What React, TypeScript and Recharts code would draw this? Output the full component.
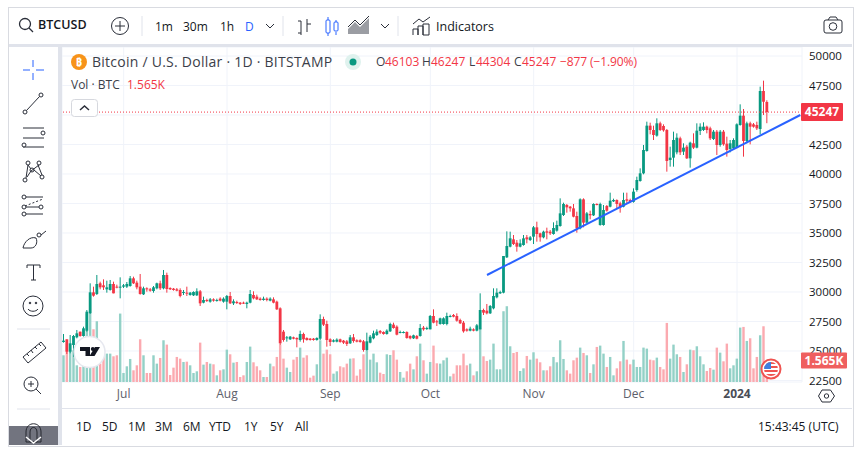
import React from "react";
import {
  ComposedChart, Bar, Line, XAxis, YAxis, CartesianGrid, ReferenceLine,
} from "recharts";

const FONT = "'Open Sans', 'Noto Sans', sans-serif";
const UP = "#089981";
const DOWN = "#f23645";
const UP_VOL = "#93d1c7";
const DOWN_VOL = "#fbaab0";
const INK = "#131722";

const opens = [
  25762,25988,24942,25507,26157,26637,26270,26722,28191,29971,
  29829,30734,30564,30225,30169,30677,30451,30395,30451,30451,
  30507,31157,30790,30451,29801,30310,30225,30084,30310,30734,
  30310,31440,30338,30281,30225,30169,29942,29942,29745,29716,
  29716,30056,29095,29321,29180,29377,29265,29434,29180,29180,
  29660,29039,29152,29095,29095,28982,29095,29745,29603,29434,
  29321,29434,29265,29377,29180,28615,26637,26072,25988,26157,
  26101,25931,26440,26101,26044,26044,25931,26044,27711,27287,
  25988,25790,25790,25988,25875,25818,25649,26157,25903,25903,
  25818,25084,25705,26072,26355,26694,26609,26440,26665,27231,
  27061,26552,26552,26609,26270,26072,26270,26270,26976,26892,
  26835,27965,27513,27287,27287,27287,27908,28050,27965,27626,
  27400,26835,26722,26835,26722,26835,28473,28417,28191,28615,
  29547,29886,29942,32937,33840,34462,34180,33840,33982,34631,
  34405,34688,35479,34970,34631,35140,35112,34914,35197,35592,
  36524,37372,37230,37089,36440,35394,37852,35875,36609,36496,
  37457,35677,35677,37287,37230,37683,37796,37513,37230,37852,
  37796,37640,38644,39406,40056,41949,44096,43729,43249,44294,
  44068,43729,41186,41384,41836,43023,41893,42316,41328,42599,
  42232,43644,43729,44011,43870,42966,43588,42458,43588,42571,
  42119,42175,42232,44153,44944,42797,44294,44209,44153,43814,
  47034,46103,
];
const highs = [
  26440,25988,26355,26355,26779,26637,27061,28473,30734,30451,
  31440,30875,31072,30960,31016,30875,30620,31242,30677,30846,
  31355,31299,30960,31525,30451,30395,30338,30507,30790,30960,
  31864,31638,30395,30338,30338,30310,30169,30451,29999,30056,
  30310,30169,29603,29434,29490,29462,29434,29547,29547,29745,
  29999,29377,29265,29152,29180,29180,30169,30056,29773,29547,
  29603,29547,29547,29547,29265,28700,26779,26270,26270,26214,
  26157,26722,26552,26157,26101,26101,26157,28106,27908,27570,
  26072,25988,26072,26044,25931,25931,26355,26440,25988,25988,
  25931,26552,26355,26722,26835,26779,26665,26835,27400,27400,
  27174,26722,26665,26665,26327,26383,26355,27287,27118,27061,
  28050,28530,27626,27824,27852,28247,28078,28134,28191,27739,
  27541,26920,27061,26920,27287,29886,28587,28982,28897,30310,
  30310,30112,33050,35140,35112,34829,34405,34462,34829,34829,
  34744,35592,35959,35027,35197,35451,35253,35903,36044,37937,
  37570,37457,37287,37457,36807,37937,37937,36778,36891,37513,
  37513,37570,37372,37372,38417,37908,37852,37654,38417,38417,
  37908,38785,39774,40480,42458,44435,44350,44096,44718,44435,
  44209,43814,42316,43588,43446,43164,42599,42458,42740,43446,
  44294,44294,44378,44096,44011,43729,43729,43729,43729,43164,
  42881,43023,44294,45904,45508,44435,44435,44322,44435,47401,
  47910,46247,
];
const lows = [
  25705,24745,24801,24519,26072,26214,26214,26637,28134,29603,
  29745,30225,30169,29942,30112,29886,30310,29462,30338,30338,
  30451,30677,30225,29773,29745,30027,30027,29942,30225,30169,
  30225,29942,30169,30112,30056,29547,29745,29660,29688,29660,
  29660,28813,29039,29152,29095,29180,29180,29208,29095,28530,
  28982,28897,28982,28897,28982,28615,29039,29377,29321,29265,
  29265,29208,29208,29039,28473,25507,25790,25790,25931,25988,
  25310,25790,25705,25875,25875,25875,25875,25931,27118,25366,
  25423,25733,25733,25705,25592,25423,25592,25705,25733,25705,
  24942,25027,25649,25988,26270,26440,26383,26383,26609,26892,
  26327,26496,26496,26044,25988,26016,25988,26214,26722,26779,
  26835,27344,27118,27231,27231,27174,27852,27852,27485,27287,
  26552,26637,26665,26665,26665,26835,28050,28106,28134,28530,
  29462,29829,29885,32880,33784,33982,33417,33784,33925,34123,
  34321,34066,34264,34264,34547,34462,34829,34857,35112,35535,
  36440,36722,36807,36326,35027,35309,35479,35818,36157,36440,
  37344,35620,35620,36807,37174,37626,37089,36722,37174,37513,
  37570,37570,38503,39350,39972,41893,43362,42881,43164,43644,
  43588,40197,40621,40621,41667,41610,41610,41271,40537,42119,
  42175,43305,43644,43446,42881,42881,41610,42316,42401,41469,
  41836,42034,42175,44096,41469,42599,42514,43926,43729,43362,
  45000,44304,
];
const closes = [
  25875,24942,25649,26270,26496,26270,26920,28332,29971,29688,
  30677,30395,30395,30395,30677,29886,30395,30451,30564,30677,
  31157,30734,30395,29829,30310,30225,30112,30395,30734,30310,
  31440,30253,30225,30169,30112,29660,29999,29886,29942,29999,
  30056,29039,29321,29265,29377,29265,29321,29265,29434,29660,
  29039,29208,29067,28982,29039,29095,29829,29462,29377,29321,
  29434,29321,29434,29095,28530,25649,25931,26157,26214,26044,
  25988,26440,25988,25931,25931,25931,26101,27711,27231,25931,
  25762,25903,25960,25762,25705,25592,26157,25846,25790,25762,
  25084,25818,26214,26496,26637,26552,26440,26722,27287,26948,
  26383,26609,26609,26101,26072,26327,26044,26948,26835,26948,
  27965,27400,27457,27767,27767,27965,27965,27908,27570,27344,
  26665,26722,26892,26722,27174,28473,28247,28191,28813,29660,
  29942,29999,33050,33897,34547,34066,33840,34123,34547,34462,
  34631,35479,34914,34631,35112,35027,34970,35422,35677,36665,
  37457,37174,37089,36383,35394,37852,35875,36665,36496,37457,
  37400,37457,36948,36891,37739,37796,37457,37174,37796,37739,
  37626,38503,39491,40056,42034,44096,43729,43305,44294,43729,
  43700,41102,41384,42881,43079,41836,42232,41328,42655,42232,
  43672,44011,44011,43729,43023,43588,42458,43588,42514,42034,
  42599,42881,44209,44944,42797,44294,44011,44011,43870,47034,
  46124,45247,
];
const volumes = [
  1944,2795,2310,2310,1215,1094,3040,4982,4982,3840,
  4423,1337,1823,2066,2066,1871,1944,4982,656,1142,
  1677,851,1215,3110,1944,656,656,1944,1337,1750,
  3038,2722,510,1045,1823,1701,1458,1482,1215,656,
  778,2867,1264,1458,1337,1288,486,851,923,2357,
  2017,1409,1458,365,486,1458,2576,1434,1142,851,
  365,365,1337,1142,1823,2722,1701,1045,729,1628,
  1823,2503,1774,1944,316,462,1288,3038,2066,2357,
  2017,608,778,1142,1069,1337,1701,1725,462,923,
  2017,2309,1628,2066,1434,680,583,2017,1968,2309,
  1628,729,316,778,1337,923,1871,2795,1580,608,
  1458,2649,1361,1337,1580,1774,413,608,1215,1215,
  2066,1215,1337,486,778,3888,1871,1531,1628,2795,
  923,923,5152,5516,2600,2114,2187,802,996,1895,
  1628,2163,1701,1434,851,851,1142,1823,1434,3038,
  1677,851,608,1580,1774,2503,2114,1944,656,1288,
  2552,2649,2066,1094,1823,486,996,1507,2989,1628,
  1288,1628,1094,1094,2503,2430,1628,1580,1774,1094,
  923,4301,1701,2722,2017,1823,729,1288,2357,2309,
  2600,1871,1288,802,1021,899,2503,2138,1507,2795,
  996,1215,1701,3961,4010,2989,3183,996,1823,3402,
  4058,1565,
];

const priceTicks = [22500,25000,27500,30000,32500,35000,37500,40000,42500,45000,47500,50000];
const priceDomain = [22371, 50763];
const volumeDomain = [0, 24388];
const monthTicks = ["2023-07-01","2023-08-01","2023-09-01","2023-10-01","2023-11-01","2023-12-01","2024-01-01"];
const monthLabels = ["Jul","Aug","Sep","Oct","Nov","Dec","2024"];
const trendStart = { date: "2023-10-18", price: 31440 };
const trendEnd = { date: "2024-01-20", price: 45000 };
const lastPrice = 45247;
const lastVolume = 1565;
const ranges = ["1D","5D","1M","3M","6M","YTD","1Y","5Y","All"];
const intervals = ["1m","30m","1h","D"];

const FIRST_DAY = Date.UTC(2023, 5, 13);
const SLOTS = 222;
const dayKey = (i: number) => new Date(FIRST_DAY + i * 86400000).toISOString().slice(0, 10);

const data = Array.from({ length: SLOTS }, (_, i) => {
  const date = dayKey(i);
  const row: any = { date };
  if (i < opens.length) {
    row.open = opens[i];
    row.high = highs[i];
    row.low = lows[i];
    row.close = closes[i];
    row.range = [lows[i], highs[i]];
    row.volume = volumes[i];
  }
  if (date === trendStart.date) row.trend = trendStart.price;
  if (date === trendEnd.date) row.trend = trendEnd.price;
  return row;
});

const Candle = (p: any) => {
  const { x, y, width, height, payload } = p;
  if (!payload || !payload.range || !Number.isFinite(y)) return null;
  const { open, high, low, close } = payload;
  const at = (v: number) => y + ((high - v) / (high - low || 1)) * height;
  const cx = x + width / 2;
  const color = close >= open ? UP : DOWN;
  const top = at(Math.max(open, close));
  const bottom = at(Math.min(open, close));
  return (
    <g>
      <line x1={cx} x2={cx} y1={y} y2={y + height} stroke={color} strokeWidth={1} />
      <rect x={cx - 1.4} y={top} width={2.8} height={Math.max(bottom - top, 1)} fill={color} />
    </g>
  );
};

const VolumeBar = (p: any) => {
  const { x, y, width, height, payload } = p;
  if (!payload || !payload.range || !Number.isFinite(y)) return null;
  const color = payload.close >= payload.open ? UP_VOL : DOWN_VOL;
  return <rect x={x + width / 2 - 1.2} y={y} width={2.4} height={height} fill={color} />;
};

const MonthTick = (p: any) => {
  const { x, y, payload } = p;
  const idx = monthTicks.indexOf(payload.value);
  const label = monthLabels[idx] ?? "";
  const bold = label === "2024";
  return (
    <text x={x} y={y + 8} textAnchor="middle" fontFamily={FONT} fontSize={12}
      fontWeight={bold ? 700 : 400} fill={bold ? "#4a4d57" : "#5d606b"}>
      {label}
    </text>
  );
};

const PriceTag = ({ viewBox, text, w, h, fill }: any) => {
  if (!viewBox) return null;
  const x = viewBox.x + viewBox.width - 1;
  const y = viewBox.y;
  return (
    <g>
      <rect x={x} y={y - h / 2} width={w} height={h} rx={1} fill={fill} />
      <text x={x + w / 2} y={y + 4} textAnchor="middle" fontFamily={FONT} fontSize={12} fontWeight={700} fill="#fff">
        {text}
      </text>
    </g>
  );
};

const T = ({ x, y, c = INK, s = 12, w = 400, a = "start", ls = 0, children }: any) => (
  <text x={x} y={y} fill={c} fontSize={s} fontWeight={w} textAnchor={a} fontFamily={FONT} letterSpacing={ls}>{children}</text>
);

const line = { fill: "none", stroke: "#2a2e39", strokeWidth: 1 };

const Chrome = () => (
  <svg width={863} height={450} style={{ position: "absolute", left: 0, top: 0, pointerEvents: "none" }}>
    {/* top bar */}
    <circle cx={25} cy={24} r={5.5} {...line} strokeWidth={1.3} />
    <path d="M29 28 L33 32" {...line} strokeWidth={1.3} />
    <T x={38} y={29} s={12.5} w={600}>BTCUSD</T>
    <circle cx={120} cy={26} r={8.5} {...line} />
    <path d="M120 21 V31 M115 26 H125" {...line} />
    <path d="M142 16 V36 M283 16 V36 M398 16 V36" stroke="#e0e3eb" />
    <T x={155} y={31}>{intervals[0]}</T>
    <T x={183} y={31}>{intervals[1]}</T>
    <T x={220} y={31}>{intervals[2]}</T>
    <T x={245} y={31} c="#2962ff">{intervals[3]}</T>
    <path d="M266 24 L270 28 L274 24 M381 24 L385 28 L389 24" {...line} />
    <path d="M301 21 V35 M298 33 H301 M307 19 V32 M307 24 H311" {...line} />
    <path d="M298 21 H301" {...line} />
    <rect x={326} y={20} width={4} height={13} rx={1} fill="none" stroke="#2962ff" />
    <path d="M328 17 V20 M328 33 V36 M336 20 V22 M336 32 V35" stroke="#2962ff" />
    <rect x={334} y={22} width={4} height={9} rx={1} fill="none" stroke="#2962ff" />
    <path d="M348 34 V29 L355 22 L360 27 L369 18 V34 Z" fill="#9b9da3" />
    <path d="M348 27 L355 20 L360 25 L369 16" {...line} />
    <path d="M413 35 V29 H418 V35 M418 35 V26 H423 V35 M423 35 V24 H429 V35 Z M413 24 L419 19 L423 22 L430 17" {...line} />
    <T x={436} y={30.5} s={12.5}>Indicators</T>
    <rect x={824} y={20} width={18} height={13} rx={2} {...line} />
    <path d="M828 20 L830 17 H836 L838 20" {...line} />
    <circle cx={833} cy={26.5} r={3.8} {...line} />

    {/* left toolbar */}
    <path d="M33 60 V67 M33 73 V80 M23 70 H30 M36 70 H44" stroke="#2962ff" />
    <g {...line}>
      <circle cx={25} cy={112} r={2} /><circle cx={41} cy={95} r={2} /><path d="M26.5 110.5 L39.5 96.5" />
      <path d="M23 128 H44 M23 138 H44 M23 147 H44" />
      <circle cx={43} cy={133} r={2} fill="#fff" /><circle cx={24} cy={145} r={2} fill="#fff" />
      <circle cx={25} cy={180} r={2} /><circle cx={28} cy={163} r={2} /><circle cx={39} cy={163} r={2} /><circle cx={42} cy={177} r={2} /><circle cx={32} cy={170} r={2} />
      <path d="M26 178 L28 165 L31 169 M27 177 L31 171 L39 165 M34 170 L41 176 M38 165 L42 175" />
      <circle cx={24} cy={197} r={2} /><circle cx={24} cy={207} r={2} /><circle cx={24} cy={214} r={2} /><circle cx={41} cy={207} r={2} />
      <path d="M26 197 H43 M26 207 H39 M26 214 H43" />
      <path d="M25 206 L43 199" strokeDasharray="2 2" />
      <path d="M23 248 C24 242 30 236 36 238 C38 242 36 248 31 248 Z" />
      <circle cx={39} cy={235} r={2} /><path d="M41 235 L46 231" />
      <path d="M27 265 H40 M33.5 265 V280 M27 265 V268 M40 265 V268 M31 280 H36" />
      <circle cx={33} cy={306} r={10} />
      <circle cx={30} cy={303} r={0.8} fill="#2a2e39" /><circle cx={36} cy={303} r={0.8} fill="#2a2e39" />
      <path d="M28 309 C30 312 36 312 38 309" />
      <path d="M23 357 L41 342 L46 348 L28 363 Z M27 354 L29 356 M31 350 L33 353 M35 347 L37 349 M39 344 L41 346" />
      <circle cx={31} cy={384} r={7} /><path d="M36 389 L41 394 M31 381 V387 M28 384 H34" />
    </g>
    <path d="M17 329 H50 M17 409 H50" stroke="#e0e3eb" />

    {/* legend */}
    <circle cx={79} cy={62} r={8} fill="#f7931a" />
    <T x={79} y={66} s={11} w={700} c="#fff" a="middle">₿</T>
    <T x={92} y={67} s={14} ls={0.25} c="#3b3e49">Bitcoin / U.S. Dollar · 1D · BITSTAMP</T>
    <circle cx={353} cy={62} r={8} fill="#dff2ee" />
    <circle cx={353} cy={62} r={3.5} fill={UP} />
    <T x={376} y={66} c="#3b3e49">O</T>
    <T x={385} y={66} c={DOWN}>46103</T>
    <T x={422} y={66} c="#3b3e49">H</T>
    <T x={431} y={66} c={DOWN}>46247</T>
    <T x={469} y={66} c="#3b3e49">L</T>
    <T x={476} y={66} c={DOWN}>44304</T>
    <T x={514} y={66} c="#3b3e49">C</T>
    <T x={522} y={66} c={DOWN}>45247</T>
    <T x={560} y={66} c={DOWN} ls={-0.1}>−877 (−1.90%)</T>
    <T x={71} y={89} c="#3b3e49">Vol · BTC</T>
    <T x={127} y={89} c={DOWN}>1.565K</T>
    <rect x={71.5} y={99.5} width={26} height={17} rx={3} fill="#fff" stroke="#d6d8de" />
    <path d="M80 110 L84.5 106 L89 110" {...line} strokeWidth={1.5} />

    {/* watermark */}
    <circle cx={89.5} cy={352} r={15.5} fill="#fff" stroke="#e6e8ef" strokeWidth={1.5} />
    <path d="M80 347 H90 V356 H85.5 V351 H80 Z" fill="#131722" />
    <circle cx={92.8} cy={349} r={2} fill="#131722" />
    <path d="M95 347 H100 L94.5 356 H89.5 Z" fill="#131722" />

    {/* flag */}
    <circle cx={771} cy={369} r={9.5} fill="#fff" stroke="#ef5350" strokeWidth={2} />
    <clipPath id="flag"><circle cx={771} cy={369} r={7} /></clipPath>
    <g clipPath="url(#flag)">
      <rect x={762} y={360} width={18} height={18} fill="#fff" />
      <path d="M762 363 H780 M762 367 H780 M762 371 H780 M762 375 H780" stroke="#ef5350" strokeWidth={2} />
      <rect x={762} y={360} width={9} height={9} fill="#3f7fe0" />
    </g>

    {/* settings */}
    <path d="M822 390 H830.5 L834.5 396 L830.5 402 H822 L818.5 396 Z" {...line} />
    <circle cx={826.5} cy={396} r={2.2} {...line} />

    {/* bottom bar */}
    {ranges.map((r, i) => (
      <T key={r} x={[76,102,128,155,183,209,244,270,295][i]} y={431}>{r}</T>
    ))}
    <T x={758} y={431}>15:43:45 (UTC)</T>

    {/* magnet block */}
    <rect x={9} y={426} width={49} height={19} fill="#6a6d78" fillOpacity={0.95} />
    <path d="M26 432 C26 421 41 421 41 432 V442 H26 Z M30 432 C30 426 37 426 37 432 V442 H30 Z" fill="none" stroke="#24262e" />
    <path d="M26 437 L33.5 443 L41 437" fill="none" stroke="#fff" strokeWidth={1.5} />
  </svg>
);

export default function App() {
  return (
    <div style={{ position: "absolute", left: 0, top: 0, width: 863, height: 450, background: "#fff", overflow: "hidden" }}>
      {/* frame */}
      <div style={{ position: "absolute", left: 8, top: 7, width: 844, height: 438, border: "1px solid #d9dbe1", boxSizing: "content-box" }} />
      <div style={{ position: "absolute", left: 9, top: 44, width: 843, height: 3, background: "#e0e3eb" }} />
      <div style={{ position: "absolute", left: 58, top: 47, width: 4, height: 398, background: "#e0e3eb" }} />
      <div style={{ position: "absolute", left: 62, top: 408, width: 790, height: 1, background: "#e0e3eb" }} />

      <div style={{ position: "absolute", left: 62, top: 47 }}>
        <ComposedChart
          width={790}
          height={361}
          data={data}
          margin={{ top: 0, right: 0, bottom: 0, left: 0 }}
          barCategoryGap={0}
        >
          <CartesianGrid stroke="#f0f3fa" yAxisId="price" />
          <XAxis
            dataKey="date"
            ticks={monthTicks}
            interval={0}
            tickLine={false}
            axisLine={false}
            height={26}
            tick={<MonthTick />}
          />
          <XAxis dataKey="date" xAxisId="v" hide />
          <YAxis
            yAxisId="price"
            orientation="right"
            width={50}
            domain={priceDomain}
            ticks={priceTicks}
            interval={0}
            tickLine={false}
            axisLine={false}
            tickMargin={1}
            tick={{ fontFamily: FONT, fontSize: 11.5, fill: INK }}
            allowDataOverflow
          />
          <YAxis yAxisId="vol" hide domain={volumeDomain} allowDataOverflow />
          <Bar xAxisId="v" yAxisId="vol" dataKey="volume" shape={<VolumeBar />} isAnimationActive={false} />
          <ReferenceLine yAxisId="price" y={lastPrice} stroke={DOWN} strokeDasharray="1 2" />
          <Bar yAxisId="price" dataKey="range" shape={<Candle />} isAnimationActive={false} />
          <Line yAxisId="price" dataKey="trend" connectNulls dot={false} stroke="#2962ff" strokeWidth={2} isAnimationActive={false} />
        </ComposedChart>
      </div>
      <Chrome />
      {/* same scales again, above the axis, so the value tags cover the ticks */}
      <div style={{ position: "absolute", left: 62, top: 47, pointerEvents: "none" }}>
        <ComposedChart width={790} height={361} data={data} margin={{ top: 0, right: 50, bottom: 26, left: 0 }}>
          <XAxis dataKey="date" hide />
          <YAxis yAxisId="price" hide domain={priceDomain} allowDataOverflow />
          <YAxis yAxisId="vol" hide domain={volumeDomain} allowDataOverflow />
          <ReferenceLine yAxisId="vol" y={lastVolume} stroke="none"
            label={<PriceTag text="1.565K" w={46} h={16} fill="#ef5f5f" />} />
          <ReferenceLine yAxisId="price" y={lastPrice} stroke="none"
            label={<PriceTag text={String(lastPrice)} w={42} h={18} fill={DOWN} />} />
        </ComposedChart>
      </div>
    </div>
  );
}
